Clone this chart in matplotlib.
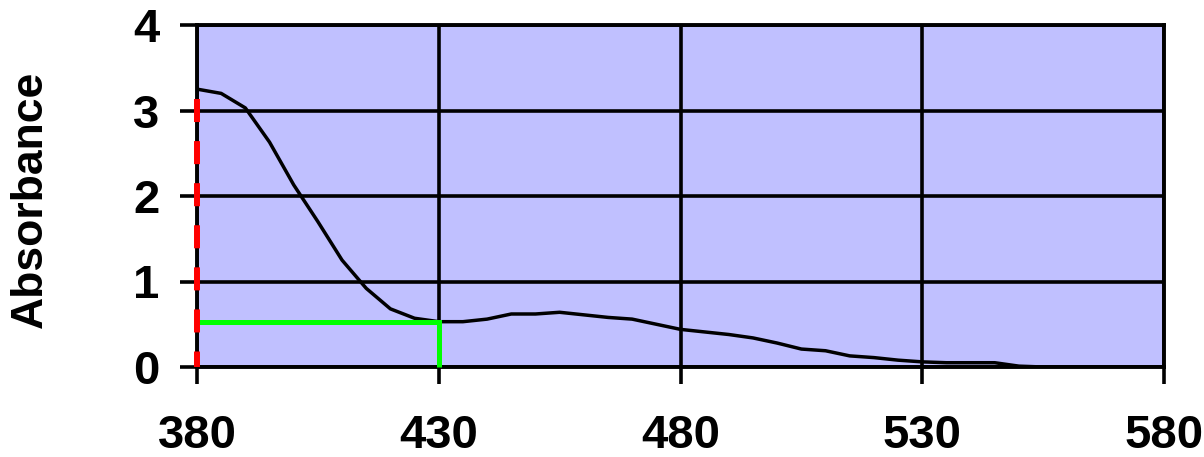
import matplotlib
matplotlib.use("Agg")
import matplotlib.pyplot as plt

wavelength = [380, 385, 390, 395, 400, 405, 410, 415, 420, 425, 430, 435, 440,
              445, 450, 455, 460, 465, 470, 475, 480, 485, 490, 495, 500, 505,
              510, 515, 520, 525, 530, 535, 540, 545, 550, 555, 560, 565, 570,
              575, 580]
absorbance = [3.25, 3.20, 3.03, 2.63, 2.13, 1.70, 1.25, 0.92, 0.68, 0.57, 0.53,
              0.53, 0.56, 0.62, 0.62, 0.64, 0.61, 0.58, 0.56, 0.50, 0.44, 0.41,
              0.38, 0.34, 0.28, 0.21, 0.19, 0.13, 0.11, 0.08, 0.06, 0.05, 0.05,
              0.05, 0.01, 0.0, 0.0, 0.0, 0.0, 0.0, 0.0]

red_x = [380, 380]
red_y = [3.13, 0.0]
green_x = [380, 430, 430]
green_y = [0.53, 0.53, 0.0]

x_ticks = [380, 430, 480, 530, 580]
y_ticks = [0, 1, 2, 3, 4]

plt.rcParams['font.family'] = ['Liberation Sans', 'DejaVu Sans']
plt.rcParams['font.weight'] = 'bold'

fig = plt.figure(figsize=(12.04, 4.57), dpi=100)
ax = fig.add_axes([197/1204, 1 - 367/457, (1164-197)/1204, (367-25)/457])
ax.set_facecolor('#C0C0FF')

ax.set_xlim(380, 580)
ax.set_ylim(0, 4)
ax.set_xticks(x_ticks)
ax.set_yticks(y_ticks)
ax.set_xticklabels([str(v) for v in x_ticks])
ax.set_yticklabels([str(v) for v in y_ticks])

ax.grid(True, color='black', linewidth=2.6, zorder=1)
ax.set_axisbelow(True)

for s in ax.spines.values():
    s.set_color('black')
    s.set_linewidth(2.8)
    s.set_zorder(3)

ax.tick_params(axis='both', direction='out', length=12, width=2.6,
               labelsize=34, colors='black')
ax.tick_params(axis='x', pad=22)
ax.tick_params(axis='y', pad=15)
for lab in ax.get_xticklabels() + ax.get_yticklabels():
    lab.set_fontweight('bold')

ax.plot(wavelength, absorbance, color='black', linewidth=2.5, zorder=4)

lw_g = 3.6
ax.plot(green_x, green_y, color='#00FF00', linewidth=lw_g, zorder=5,
        solid_joinstyle='miter', solid_capstyle='butt', clip_on=False)

lw_r = 4.3
ax.plot(red_x, red_y, color='#FF0000', linewidth=lw_r, zorder=6,
        linestyle=(0, (16.6 / lw_r, 13.7 / lw_r)), dash_capstyle='butt',
        clip_on=False)

ax.set_ylabel('Absorbance', fontsize=32, fontweight='bold')
ax.yaxis.set_label_coords(-0.151, 0.49)

fig.savefig('out.png', dpi=100)
